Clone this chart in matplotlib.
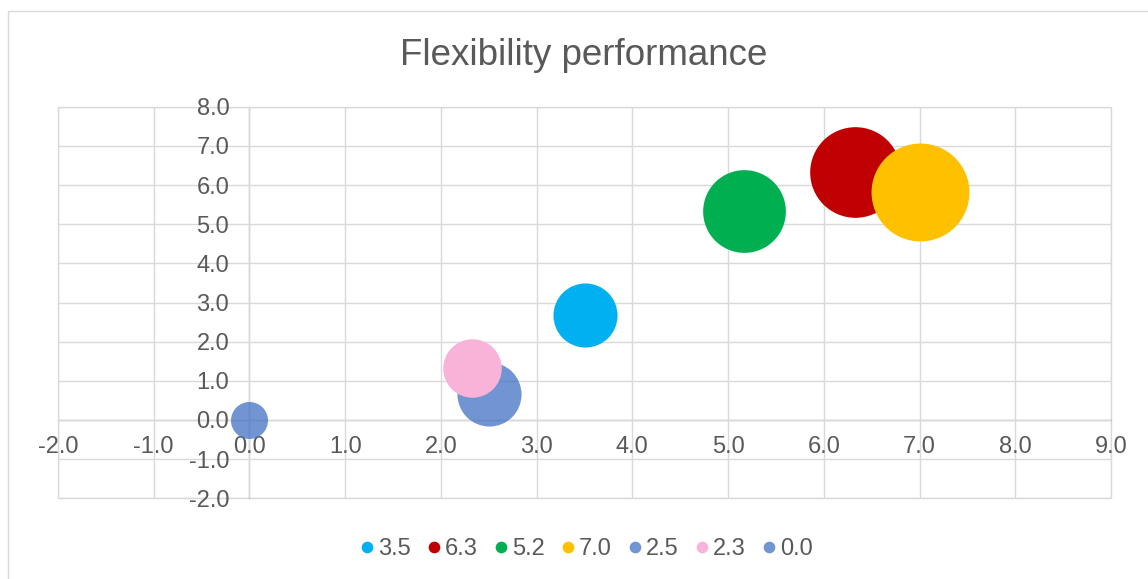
import numpy as np
import matplotlib
matplotlib.use("Agg")
import matplotlib.pyplot as plt
from matplotlib.lines import Line2D
from matplotlib.patches import Rectangle

# Series data (legend label, x, y, bubble size)
series_labels = ["3.5", "6.3", "5.2", "7.0", "2.5", "2.3", "0.0"]
x_values = [3.5, 6.33, 5.17, 7.0, 2.5, 2.33, 0.0]
y_values = [2.67, 6.33, 5.33, 5.83, 0.67, 1.33, 0.0]
bubble_sizes = [3.0, 6.0, 5.0, 7.0, 3.0, 2.5, 1.0]
series_colors = ["#00B0F0", "#C00000", "#00B050", "#FFC000", "#4472C4", "#F9B3D9", "#4472C4"]
series_alpha = [1.0, 1.0, 1.0, 1.0, 0.76, 1.0, 0.76]

x_ticks = [-2, -1, 0, 1, 2, 3, 4, 5, 6, 7, 8, 9]
y_ticks = [-2, -1, 0, 1, 2, 3, 4, 5, 6, 7, 8]

TEXT = "#595959"
GRID = "#D9D9D9"
AXIS = "#BFBFBF"
plt.rcParams["font.family"] = ["Liberation Sans", "DejaVu Sans"]

W, H, DPI = 1148, 579, 100
fig = plt.figure(figsize=(W / DPI, H / DPI), dpi=DPI)

# chart-area border
fig.patches.append(Rectangle((7.5 / W, -0.1), 1.2, (H - 10.7) / H + 0.1,
                             transform=fig.transFigure, fill=False,
                             edgecolor=GRID, linewidth=1.0))

left, right, top, bottom = 58, 1111, 106.7, 498.3
ax = fig.add_axes([left / W, (H - bottom) / H, (right - left) / W, (bottom - top) / H])
ax.set_xlim(x_ticks[0], x_ticks[-1])
ax.set_ylim(y_ticks[0], y_ticks[-1])
ax.set_xticks(x_ticks)
ax.set_yticks(y_ticks)
ax.set_xticklabels([f"{v:.1f}" for v in x_ticks])
ax.set_yticklabels([f"{v:.1f}" for v in y_ticks])

ax.grid(True, color=GRID, linewidth=1.0, zorder=0)
ax.set_axisbelow(True)
for s in ("top", "right"):
    ax.spines[s].set_visible(False)
for s in ("left", "bottom"):
    ax.spines[s].set_position(("data", 0))
    ax.spines[s].set_color(AXIS)
    ax.spines[s].set_linewidth(1.0)
    ax.spines[s].set_zorder(0.5)
ax.add_patch(Rectangle((0, 0), 1, 1, transform=ax.transAxes, fill=False,
                       edgecolor=GRID, linewidth=1.0, clip_on=False, zorder=0.4))
ax.tick_params(axis="both", length=0, labelsize=17, labelcolor=TEXT)
ax.tick_params(axis="x", pad=11.5)
ax.tick_params(axis="y", pad=14.5)

# bubble area proportional to size; largest diameter = 1/4 of the shorter plot side
plot_px = min(right - left, bottom - top)
d_max_pt = 0.25 * plot_px * 72 / DPI
smax = max(bubble_sizes)
for lab, x, y, s, c, a in zip(series_labels, x_values, y_values, bubble_sizes,
                              series_colors, series_alpha):
    d = d_max_pt * np.sqrt(s / smax)
    ax.scatter([x], [y], s=d ** 2, color=c, alpha=a, linewidths=0, zorder=3, clip_on=False)

fig.text(583.5 / W, (H - 65) / H, "Flexibility performance", fontsize=26.5,
         color=TEXT, ha="center", va="baseline")

handles = [Line2D([], [], marker="o", linestyle="", markersize=8.4, color=c, alpha=a,
                  markeredgewidth=0)
           for c, a in zip(series_colors, series_alpha)]
fig.legend(handles, series_labels, loc="center", bbox_to_anchor=(587 / W, (H - 549) / H),
           ncol=7, frameon=False, fontsize=17, labelcolor=TEXT,
           handlelength=0.5, handletextpad=0.2, columnspacing=0.75)

fig.savefig("out.png", dpi=DPI)
